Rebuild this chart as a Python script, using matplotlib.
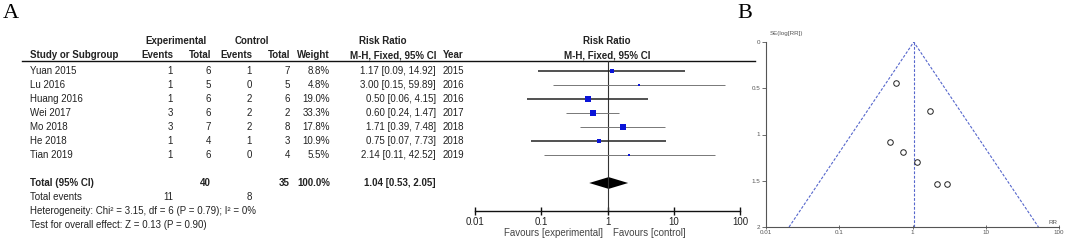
import numpy as np
import matplotlib
matplotlib.use("Agg")
import matplotlib.pyplot as plt

plt.rcParams['font.family'] = ['Liberation Sans', 'DejaVu Sans']

# study data (forest plot table)
studies = ["Yuan 2015", "Lu 2016", "Huang 2016", "Wei 2017", "Mo 2018", "He 2018", "Tian 2019"]
ev_exp = [1, 1, 1, 3, 3, 1, 1]
tot_exp = [6, 5, 6, 6, 7, 4, 6]
ev_ctl = [1, 0, 2, 2, 2, 1, 0]
tot_ctl = [7, 5, 6, 2, 8, 3, 4]
weight = [8.8, 4.8, 19.0, 33.3, 17.8, 10.9, 5.5]
rr = [1.17, 3.00, 0.50, 0.60, 1.71, 0.75, 2.14]
rr_lo = [0.09, 0.15, 0.06, 0.24, 0.39, 0.07, 0.11]
rr_hi = [14.92, 59.89, 4.15, 1.47, 7.48, 7.73, 42.52]
year = [2015, 2016, 2016, 2017, 2018, 2018, 2019]

pooled = 1.04
pooled_lo = 0.53
pooled_hi = 2.05
total_weight = 100.0
total_exp, total_ctl = 40, 35
events_exp, events_ctl = 11, 8
het_text = "Heterogeneity: Chi\u00b2 = 3.15, df = 6 (P = 0.79); I\u00b2 = 0%"
test_text = "Test for overall effect: Z = 0.13 (P = 0.90)"

# funnel plot: SE(log RR)
se_log_rr = [1.30, 1.53, 1.08, 0.44, 0.75, 1.19, 1.53]

# style only: CI lines that render darker in the reference
ci_dark = [True, False, True, False, False, True, False]

W, H = 1065, 241
fig = plt.figure(figsize=(W / 100, H / 100), dpi=100)

bg = fig.add_axes([0, 0, 1, 1])
bg.set_xlim(0, W)
bg.set_ylim(H, 0)
bg.axis('off')

txt = '#222222'
fs = 7

def row_y(i):
    return 71 + 14 * i

def fig_rect(x0, y0, x1, y1):
    return [x0 / W, 1 - y1 / H, (x1 - x0) / W, (y1 - y0) / H]

# panel letters
bg.text(3, 14, "A", fontsize=16, family='Liberation Serif', va='center', ha='left', color='black')
bg.text(737, 14, "B", fontsize=16, family='Liberation Serif', va='center', ha='left', color='black')

# column right edges
c_eve, c_tote, c_evc, c_totc, c_w, c_ci, c_year = 173, 211, 252, 290, 330, 436, 443
plot_mid = 607

bold = dict(fontsize=fs, fontweight='bold', color=txt, va='center')
norm = dict(fontsize=fs, color=txt, va='center')

# headers
bg.text(176, 41, "Experimental", ha='center', **bold)
bg.text(252, 41, "Control", ha='center', **bold)
bg.text(383, 41, "Risk Ratio", ha='center', **bold)
bg.text(plot_mid, 41, "Risk Ratio", ha='center', **bold)
h2 = 55
bg.text(30, h2, "Study or Subgroup", ha='left', **bold)
bg.text(c_eve, h2, "Events", ha='right', **bold)
bg.text(c_tote, h2, "Total", ha='right', **bold)
bg.text(c_evc, h2, "Events", ha='right', **bold)
bg.text(c_totc, h2, "Total", ha='right', **bold)
bg.text(c_w, h2, "Weight", ha='right', **bold)
bg.text(c_ci, h2, "M-H, Fixed, 95% CI", ha='right', **bold)
bg.text(c_year, h2, "Year", ha='left', **bold)
bg.text(plot_mid, h2, "M-H, Fixed, 95% CI", ha='center', **bold)
bg.plot([22, 755], [61, 61], color='#111111', lw=1.0)

# study rows
for i, s in enumerate(studies):
    y = row_y(i)
    bg.text(30, y, s, ha='left', **norm)
    bg.text(c_eve, y, str(ev_exp[i]), ha='right', **norm)
    bg.text(c_tote, y, str(tot_exp[i]), ha='right', **norm)
    bg.text(c_evc, y, str(ev_ctl[i]), ha='right', **norm)
    bg.text(c_totc, y, str(tot_ctl[i]), ha='right', **norm)
    bg.text(c_w, y, f"{weight[i]:.1f}%", ha='right', **norm)
    bg.text(c_ci, y, f"{rr[i]:.2f} [{rr_lo[i]:.2f}, {rr_hi[i]:.2f}]", ha='right', **norm)
    bg.text(c_year, y, str(year[i]), ha='left', **norm)

# total rows
yt = row_y(8)
bg.text(30, yt, "Total (95% CI)", ha='left', **bold)
bg.text(c_tote, yt, str(total_exp), ha='right', **bold)
bg.text(c_totc, yt, str(total_ctl), ha='right', **bold)
bg.text(c_w, yt, f"{total_weight:.1f}%", ha='right', **bold)
bg.text(c_ci, yt, f"{pooled:.2f} [{pooled_lo:.2f}, {pooled_hi:.2f}]", ha='right', **bold)
bg.text(30, row_y(9), "Total events", ha='left', **norm)
bg.text(c_eve, row_y(9), str(events_exp), ha='right', **norm)
bg.text(c_evc, row_y(9), str(events_ctl), ha='right', **norm)
bg.text(30, row_y(10), het_text, ha='left', **norm)
bg.text(30, row_y(11), test_text, ha='left', **norm)

# forest plot axes: spans from header line down to x axis
fy0, fy1 = 61, 211
fa = fig.add_axes(fig_rect(475, fy0, 740, fy1))
fa.patch.set_alpha(0)
fa.set_xscale('log')
fa.set_xlim(0.01, 100)
fa.set_ylim((fy1 - 71) / 14, (fy0 - 71) / 14)
for sp in ['top', 'right', 'left']:
    fa.spines[sp].set_visible(False)
fa.spines['bottom'].set_color('#111111')
fa.spines['bottom'].set_linewidth(1.0)
fa.set_yticks([])
fa.set_xticks([0.01, 0.1, 1, 10, 100])
fa.set_xticklabels(["0.01", "0.1", "1", "10", "100"])
fa.minorticks_off()
fa.tick_params(axis='x', direction='inout', length=6, width=1.0, color='#111111',
               labelsize=fs, labelcolor=txt, pad=1)
fa.axvline(1, color='#333333', lw=0.8)

for i in range(len(studies)):
    dark = ci_dark[i]
    fa.plot([rr_lo[i], rr_hi[i]], [i, i], color='#222222' if dark else '#777777',
            lw=1.1 if dark else 0.7, solid_capstyle='butt')
    side = 1.21 * np.sqrt(weight[i])  # px
    fa.plot(rr[i], i, marker='s', ls='none', color='#0a14d8', markersize=side * 0.72,
            markeredgewidth=0)

dh = 0.42
fa.fill([pooled_lo, pooled, pooled_hi, pooled], [8, 8 - dh, 8, 8 + dh], color='black', lw=0)

bg.text(603, 233, "Favours [experimental]", ha='right', fontsize=fs, color='#444444', va='center')
bg.text(613, 233, "Favours [control]", ha='left', fontsize=fs, color='#444444', va='center')

# funnel plot
ua = fig.add_axes(fig_rect(766, 42, 1059, 227))
ua.patch.set_alpha(0)
ua.set_xscale('log')
ua.set_xlim(0.01, 100)
ua.set_ylim(2, 0)
ua.spines['top'].set_visible(False)
ua.spines['right'].set_visible(False)
for sp in ['left', 'bottom']:
    ua.spines[sp].set_color('#555555')
    ua.spines[sp].set_linewidth(0.8)
ua.set_xticks([0.01, 0.1, 1, 10, 100])
ua.set_xticklabels(["0.01", "0.1", "1", "10", "100"])
ua.set_yticks([0, 0.5, 1, 1.5, 2])
ua.set_yticklabels(["0", "0.5", "1", "1.5", "2"])
ua.minorticks_off()
ua.tick_params(axis='both', labelsize=4.5, labelcolor='#555555', color='#555555',
               length=3, width=0.6, pad=1)
ua.tick_params(axis='x', direction='inout')

se_max = 2
ua.plot([pooled * np.exp(-1.96 * se_max), pooled, pooled * np.exp(1.96 * se_max)],
        [se_max, 0, se_max], ls=(0, (2.5, 1.5)), color='#5566cc', lw=0.8)
ua.plot([pooled, pooled], [0, se_max], ls=(0, (2.5, 1.5)), color='#5566cc', lw=0.8)
ua.plot(rr, se_log_rr, 'o', mfc='white', mec='#222222', mew=0.7, markersize=4)

bg.text(770, 33, "SE(log[RR])", fontsize=4.5, color='#555555', ha='left', va='center')
bg.text(1053, 222, "RR", fontsize=4.5, color='#555555', ha='center', va='center')

fig.savefig("out.png", dpi=100)
